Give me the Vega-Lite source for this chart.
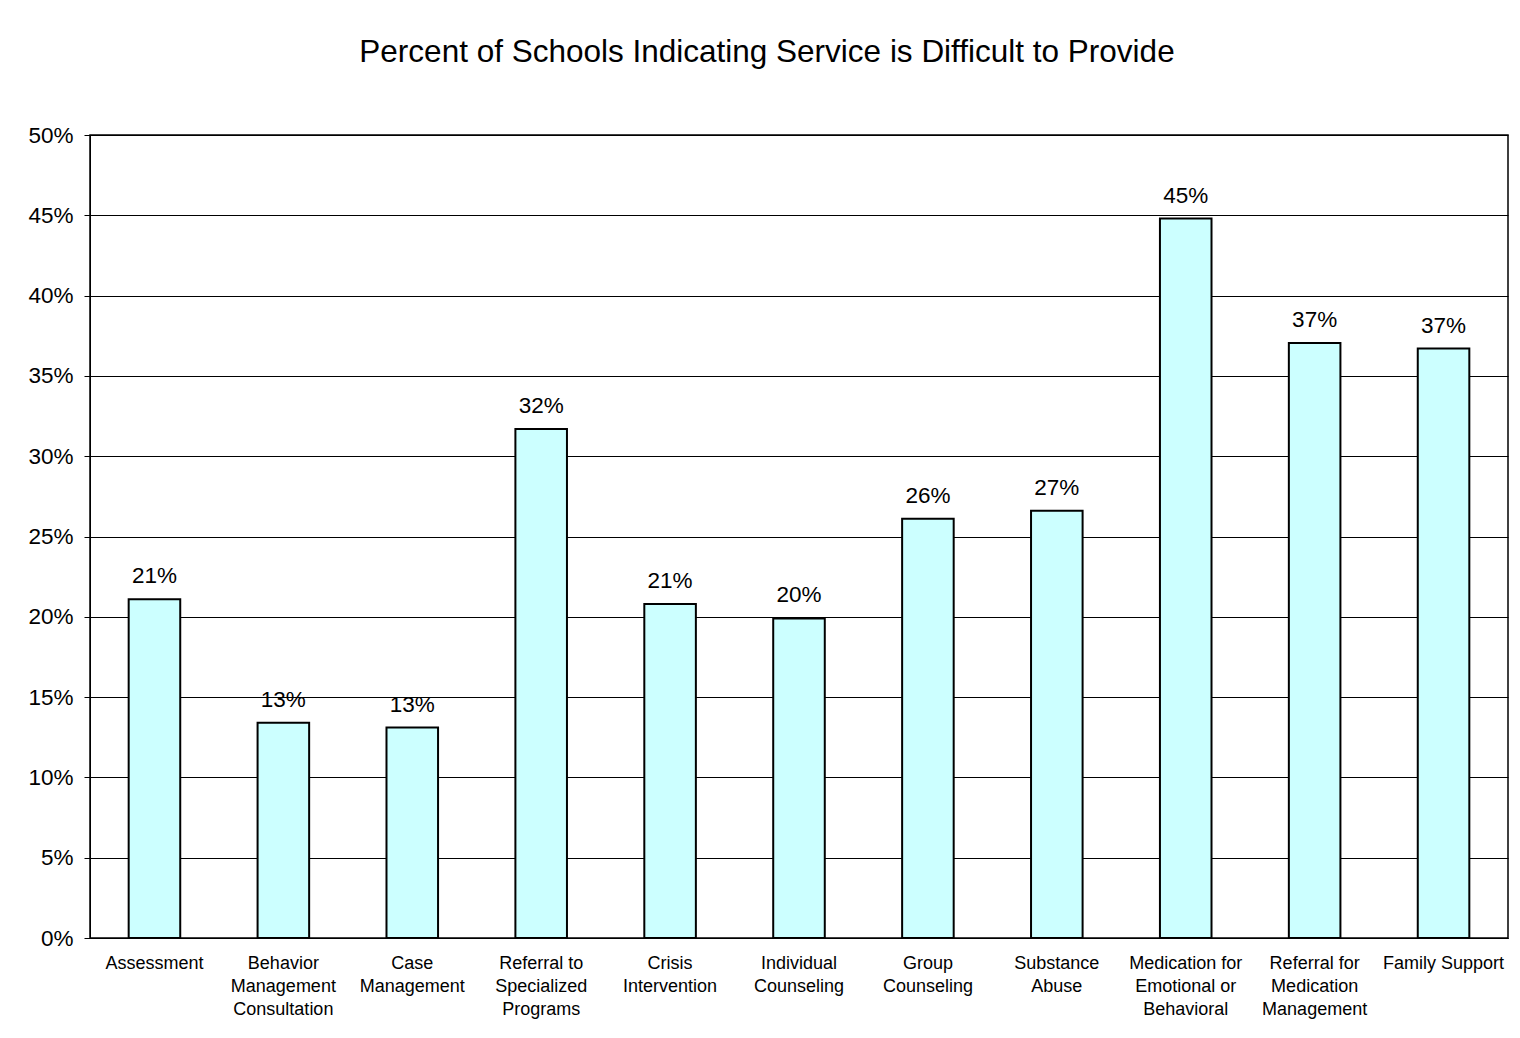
{
  "$schema": "https://vega.github.io/schema/vega-lite/v6.json",
  "width": 1418,
  "height": 803,
  "autosize": {"type": "none"},
  "padding": {"left": 90, "top": 135, "right": 12, "bottom": 100},
  "background": "white",
  "title": {
    "text": "Percent of Schools Indicating Service is Difficult to Provide",
    "font": "Liberation Sans",
    "fontSize": 31.5,
    "fontWeight": "normal",
    "color": "black",
    "anchor": "middle",
    "dx": -32,
    "offset": 56
  },
  "data": {
    "values": [
      {"service": "Assessment", "pct": 0.211},
      {"service": "Behavior\nManagement\nConsultation", "pct": 0.134},
      {"service": "Case\nManagement", "pct": 0.131},
      {"service": "Referral to\nSpecialized\nPrograms", "pct": 0.317},
      {"service": "Crisis\nIntervention", "pct": 0.208},
      {"service": "Individual\nCounseling", "pct": 0.199},
      {"service": "Group\nCounseling", "pct": 0.261},
      {"service": "Substance\nAbuse", "pct": 0.266},
      {"service": "Medication for\nEmotional or\nBehavioral", "pct": 0.448},
      {"service": "Referral for\nMedication\nManagement", "pct": 0.3705},
      {"service": "Family Support", "pct": 0.367}
    ]
  },
  "encoding": {
    "x": {
      "field": "service",
      "type": "nominal",
      "sort": null,
      "scale": {"paddingInner": 0.6, "paddingOuter": 0.3},
      "axis": {
        "title": null,
        "labelAngle": 0,
        "ticks": false,
        "labelPadding": 16,
        "labelFont": "Liberation Sans",
        "labelFontSize": 18,
        "labelColor": "black",
        "labelLineHeight": 23,
        "labelLimit": 0,
        "labelExpr": "split(datum.value, '\\n')",
        "domainColor": "black",
        "grid": false
      }
    },
    "y": {
      "field": "pct",
      "type": "quantitative",
      "scale": {"domain": [0, 0.5], "nice": false},
      "axis": {
        "title": null,
        "format": ".0%",
        "values": [0, 0.05, 0.1, 0.15, 0.2, 0.25, 0.3, 0.35, 0.4, 0.45, 0.5],
        "labelFont": "Liberation Sans",
        "labelFontSize": 22.5,
        "labelColor": "black",
        "labelPadding": 11,
        "tickSize": 6,
        "tickColor": "black",
        "domainColor": "black",
        "grid": true,
        "gridColor": "black",
        "gridOpacity": 1,
        "gridWidth": 1
      }
    }
  },
  "layer": [
    {
      "mark": {"type": "bar", "fill": "#CCFFFF", "stroke": "black", "strokeWidth": 2}
    },
    {
      "mark": {
        "type": "text",
        "baseline": "alphabetic",
        "dy": -16,
        "font": "Liberation Sans",
        "fontSize": 22.5,
        "color": "black"
      },
      "encoding": {
        "text": {"field": "pct", "type": "quantitative", "format": ".0%"}
      }
    }
  ],
  "config": {
    "view": {"stroke": "black", "strokeWidth": 1.5}
  }
}
